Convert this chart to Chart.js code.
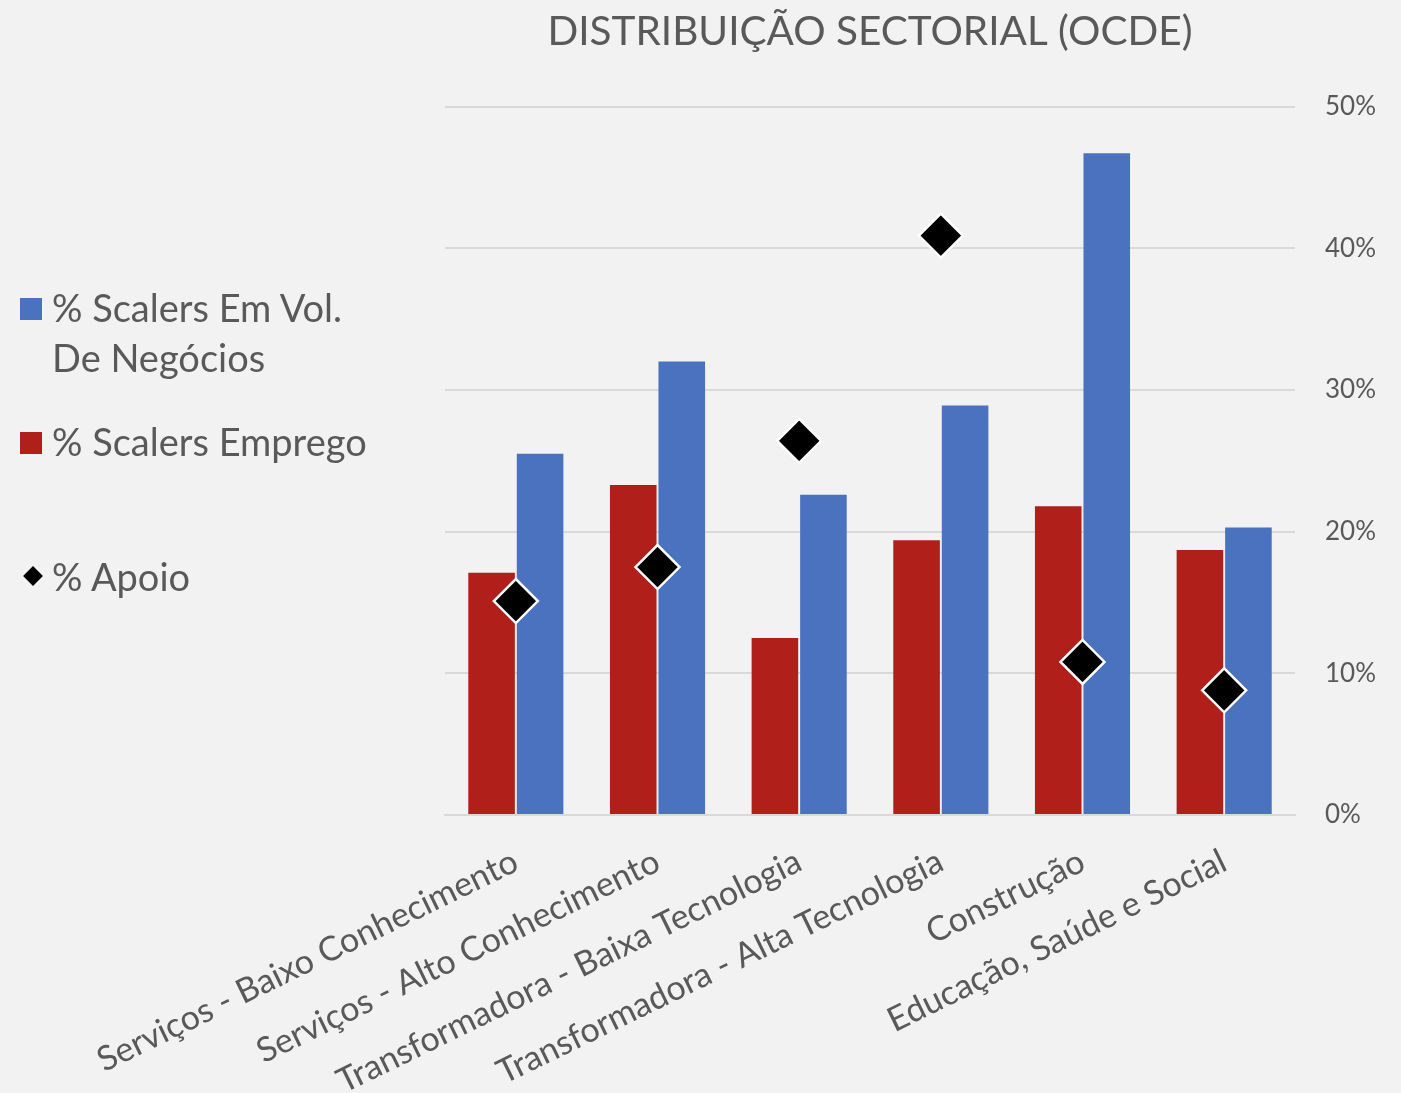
<!DOCTYPE html>
<html>
<head>
<meta charset="utf-8">
<script src="https://cdn.jsdelivr.net/npm/chart.js@4/dist/chart.umd.min.js"></script>
<style>
  body { margin: 0; background: #f2f2f2; font-family: Lato, "Open Sans", sans-serif; }
  #wrap { position: relative; width: 1401px; height: 1093px; }
  #legenda { position: absolute; left: 0; top: 0; color: #595959; font-size: 38px; }
  .item { position: absolute; left: 20px; line-height: 50px; }
  .item .txt { position: absolute; left: 32px; top: 0; white-space: pre; }
  .box { position: absolute; left: 0; width: 22px; height: 22px; }
  .diam { position: absolute; left: 6px; width: 14px; height: 14px; background: #000; transform: rotate(45deg); }
</style>
</head>
<body>
<div id="wrap">
  <canvas id="grafico"></canvas>
  <div id="legenda"></div>
</div>
<script>
// dados
var categorias = ['Serviços - Baixo Conhecimento', 'Serviços - Alto Conhecimento', 'Transformadora - Baixa Tecnologia', 'Transformadora - Alta Tecnologia', 'Construção', 'Educação, Saúde e Social'];
var volNegocios = [25.5, 32.0, 22.6, 28.9, 46.7, 20.3];
var emprego = [17.1, 23.3, 12.5, 19.4, 21.8, 18.7];
var apoio = [15.1, 17.5, 26.4, 40.9, 10.8, 8.8];
var ticksY = [0, 10, 20, 30, 40, 50];

var cinza = '#595959';
var azul = '#4a72be';
var vermelho = '#b01f1a';

var ctx = document.getElementById('grafico').getContext('2d');

var myChart = new Chart(ctx, {
    data: {
        labels: categorias,
        datasets: [{
            type: 'line',
            label: '% Apoio',
            data: apoio,
            showLine: false,
            pointStyle: 'rectRot',
            pointRadius: 22,
            pointBackgroundColor: '#000',
            pointBorderColor: '#fff',
            pointBorderWidth: 2.5,
            order: 0
        }, {
            type: 'bar',
            label: '% Scalers Emprego',
            data: emprego,
            backgroundColor: vermelho,
            categoryPercentage: 0.685,
            barPercentage: 0.96,
            order: 1
        }, {
            type: 'bar',
            label: '% Scalers Em Vol.\nDe Negócios',
            data: volNegocios,
            backgroundColor: azul,
            categoryPercentage: 0.685,
            barPercentage: 0.96,
            order: 1
        }]
    },
    options: {
        responsive: true,
        maintainAspectRatio: false,
        animation: false,
        layout: { padding: { left: 445, right: 0, top: 8, bottom: 0 } },
        plugins: {
            legend: { display: false },
            tooltip: { enabled: false },
            title: {
                display: true,
                text: 'DISTRIBUIÇÃO SECTORIAL (OCDE)',
                fullSize: false,
                color: cinza,
                font: { family: 'Lato', size: 40.5, weight: 'normal' },
                padding: { top: 0, bottom: 50 }
            }
        },
        scales: {
            x: {
                grid: { display: false },
                border: { color: '#d9d9d9', width: 2 },
                afterFit: function (eixo) { eixo.height = 278; },
                ticks: {
                    color: cinza,
                    font: { family: 'Lato', size: 34 },
                    autoSkip: false,
                    minRotation: 26,
                    maxRotation: 26,
                    padding: 18
                }
            },
            y: {
                position: 'right',
                min: 0,
                max: 50,
                afterBuildTicks: function (eixo) {
                    eixo.ticks = ticksY.map(function (v) { return { value: v }; });
                },
                afterFit: function (eixo) { eixo.width = 106; },
                grid: { color: '#d9d9d9', lineWidth: 2, drawTicks: false },
                border: { display: false },
                ticks: {
                    color: cinza,
                    font: { family: 'Lato', size: 26 },
                    padding: 30,
                    callback: function (v) { return v + '%'; }
                }
            }
        }
    }
});

// legenda em html (ordem do original: azul, vermelho, losango)
var itens = [
    { txt: myChart.data.datasets[2].label, cor: azul, tipo: 'box', topo: 282 },
    { txt: myChart.data.datasets[1].label, cor: vermelho, tipo: 'box', topo: 416 },
    { txt: myChart.data.datasets[0].label, cor: '#000', tipo: 'diam', topo: 551 }
];
var leg = document.getElementById('legenda');
itens.forEach(function (it) {
    var d = document.createElement('div');
    d.className = 'item';
    d.style.top = it.topo + 'px';
    var m = document.createElement('div');
    if (it.tipo == 'box') {
        m.className = 'box';
        m.style.background = it.cor;
        m.style.top = '16px';
    } else {
        m.className = 'diam';
        m.style.top = '18px';
    }
    var t = document.createElement('div');
    t.className = 'txt';
    t.textContent = it.txt;
    d.appendChild(m);
    d.appendChild(t);
    leg.appendChild(d);
});
</script>
</body>
</html>
